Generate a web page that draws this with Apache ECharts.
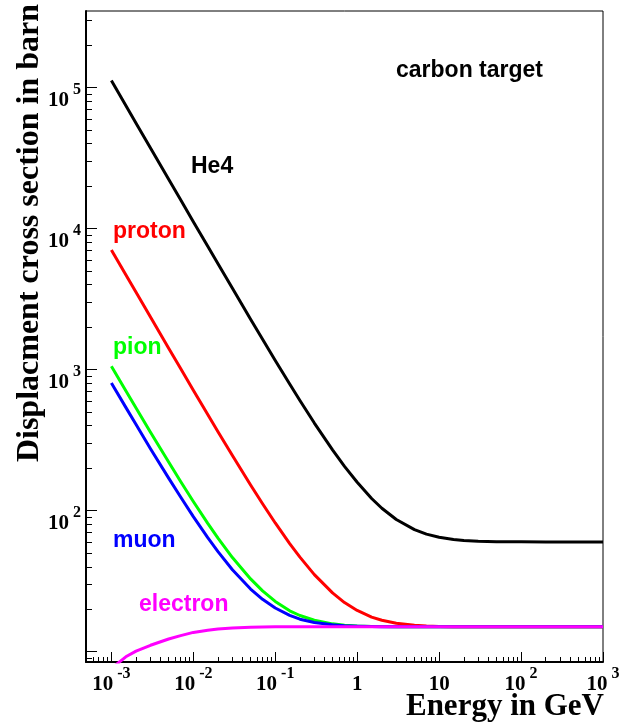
<!DOCTYPE html>
<html>
<head>
<meta charset="utf-8">
<script src="https://cdn.jsdelivr.net/npm/echarts@6/dist/echarts.min.js"></script>
<style>
html,body{margin:0;padding:0;background:#fff;}
#chart{width:625px;height:726px;}
</style>
</head>
<body>
<div id="chart"></div>
<script>
// ---- data ----
const energyGeV = [0.001,0.0015,0.002,0.003,0.005,0.007,0.01,0.015,0.02,0.03,0.05,0.07,0.1,0.15,0.2,0.3,0.5,0.7,1,1.5,2,3,5,7,10,15,20,30,50,100,200,500,1000];
const he4Barn = [112000,74600,55900,37300,22400,16000,11200,7500,5640,3770,2280,1640,1160,790,604,418,270,206,159,122,104,86.6,73.4,68.2,64.8,62.5,61.5,60.7,60.3,60.1,60,60,60];
const protonBarn = [7050,4700,3530,2360,1420,1017,715,480,363,246,152,112,81.8,58.4,46.8,35.2,26.1,22.3,19.6,17.6,16.7,15.9,15.4,15.2,15.1,15.05,15.03,15,15,15,15,15,15];
const pionBarn = [1058,709,535,360,221,161,116,81.2,63.8,46.5,32.8,27.0,22.7,19.5,18.05,16.7,15.75,15.4,15.2,15.1,15.06,15.03,15.01,15,15,15,15,15,15,15,15,15,15];
const muonBarn = [804,540,408,275,170,125,90.7,64.3,51.2,38.1,27.8,23.5,20.4,18.1,17.0,16.1,15.5,15.26,15.14,15.06,15.04,15.02,15.01,15,15,15,15,15,15,15,15,15,15];
const electronBarn = [7.6,9.2,10.1,11.1,12.3,13.0,13.7,14.2,14.5,14.75,14.9,14.95,15,15,15,15,15,15,15,15,15,15,15,15,15,15,15,15,15,15,15,15,15];

const seriesNames = ['He4','proton','pion','muon','electron'];
const seriesColors = ['#000000','#ff0000','#00ff00','#0000ff','#ff00ff'];

const xRange = [0.00049, 1000];
const yRange = [8.45, 349000];

const xTickValues = [0.001,0.01,0.1,1,10,100,1000];
const xTickLabels = ['10^-3','10^-2','10^-1','1','10','10^2','10^3'];
const xMinorTicks = [0.0005,0.0006,0.0007,0.0008,0.0009,
  0.002,0.003,0.004,0.005,0.006,0.007,0.008,0.009,
  0.02,0.03,0.04,0.05,0.06,0.07,0.08,0.09,
  0.2,0.3,0.4,0.5,0.6,0.7,0.8,0.9,
  2,3,4,5,6,7,8,9,20,30,40,50,60,70,80,90,200,300,400,500,600,700,800,900];
const yTickValues = [10,100,1000,10000,100000];
const yTickLabels = ['','10^2','10^3','10^4','10^5'];
const yMinorTicks = [9,20,30,40,50,60,70,80,90,200,300,400,500,600,700,800,900,
  2000,3000,4000,5000,6000,7000,8000,9000,20000,30000,40000,50000,60000,70000,80000,90000,200000,300000];

const annotations = [
  {text:'carbon target', color:'#000000', x:396, y:71},
  {text:'He4', color:'#000000', x:191, y:167},
  {text:'proton', color:'#ff0000', x:113, y:232},
  {text:'pion', color:'#00ff00', x:113, y:348},
  {text:'muon', color:'#0000ff', x:113, y:541},
  {text:'electron', color:'#ff00ff', x:139, y:605}
];
const xTitle = 'Energy in GeV';
const yTitle = 'Displacment cross section in barn';

// ---- helpers ----
function richLabel(s) {
  if (!s) return '';
  const i = s.indexOf('^');
  if (i < 0) return '{b|' + s + '}';
  return '{b|' + s.slice(0, i) + '}{s|' + s.slice(i + 1) + '}';
}
function lookupLabel(values, labels, v) {
  for (let j = 0; j < values.length; j++) {
    if (Math.abs(Math.log10(v) - Math.log10(values[j])) < 0.01) return richLabel(labels[j]);
  }
  return '';
}
const SERIF = '"Liberation Serif", "Times New Roman", serif';
const SANS = '"Liberation Sans", Arial, sans-serif';
const rich = {
  b: {fontFamily: SERIF, fontWeight: 'bold', fontSize: 21, color: '#000', lineHeight: 21, padding: [8, 0, 0, 0]},
  s: {fontFamily: SERIF, fontWeight: 'bold', fontSize: 16, color: '#000', lineHeight: 16, padding: [0, 0, 13, 4]}
};

const chart = echarts.init(document.getElementById('chart'), null, {renderer: 'canvas'});

const series = [he4Barn, protonBarn, pionBarn, muonBarn, electronBarn].map(function (arr, k) {
  return {
    name: seriesNames[k],
    type: 'line',
    xAxisIndex: 0,
    yAxisIndex: 0,
    data: energyGeV.map(function (e, i) { return [e, arr[i]]; }),
    showSymbol: false,
    symbol: 'none',
    smooth: false,
    clip: true,
    lineStyle: {color: seriesColors[k], width: 3, join: 'round'},
    itemStyle: {color: seriesColors[k]},
    emphasis: {disabled: true},
    z: 2 + k
  };
});

const graphic = annotations.map(function (a) {
  return {
    type: 'text', x: a.x, y: a.y, z: 100,
    style: {text: a.text, fill: a.color, fontFamily: SANS, fontWeight: 'bold', fontSize: 23, align: 'left', verticalAlign: 'middle'}
  };
});
graphic.push({
  type: 'text', x: 604, y: 707, z: 100,
  style: {text: xTitle, fill: '#000', fontFamily: SERIF, fontWeight: 'bold', fontSize: 31, align: 'right', verticalAlign: 'middle'}
});
graphic.push({
  type: 'text', x: 30, y: 4, rotation: Math.PI / 2, z: 100,
  style: {text: yTitle, fill: '#000', fontFamily: SERIF, fontWeight: 'bold', fontSize: 32, align: 'right', verticalAlign: 'middle'}
});

const option = {
  animation: false,
  backgroundColor: '#ffffff',
  grid: {left: 86, right: 22, top: 11, bottom: 64, show: true, borderColor: '#000', borderWidth: 1, backgroundColor: 'transparent', containLabel: false, outerBoundsMode: 'none'},
  xAxis: [
    {
      type: 'log', logBase: 10, min: xRange[0], max: xRange[1], position: 'bottom',
      axisLine: {show: true, onZero: false, lineStyle: {color: '#000', width: 2}},
      axisTick: {show: true, inside: true, length: 10, customValues: xTickValues, lineStyle: {color: '#000', width: 1}},
      axisLabel: {show: true, margin: 8, customValues: xTickValues, formatter: function (v) { return lookupLabel(xTickValues, xTickLabels, v); }, rich: rich},
      splitLine: {show: false}, minorTick: {show: false}
    },
    {
      type: 'log', logBase: 10, min: xRange[0], max: xRange[1], position: 'bottom',
      axisLine: {show: false},
      axisTick: {show: true, inside: true, length: 5, customValues: xMinorTicks, lineStyle: {color: '#000', width: 1}},
      axisLabel: {show: false},
      splitLine: {show: false}
    }
  ],
  yAxis: [
    {
      type: 'log', logBase: 10, min: yRange[0], max: yRange[1], position: 'left',
      axisLine: {show: true, onZero: false, lineStyle: {color: '#000', width: 2}},
      axisTick: {show: true, inside: true, length: 11, customValues: yTickValues, lineStyle: {color: '#000', width: 1}},
      axisLabel: {show: true, margin: 5, customValues: yTickValues, padding: [18, 0, 0, 0], formatter: function (v) { return lookupLabel(yTickValues, yTickLabels, v); }, rich: rich},
      splitLine: {show: false}, minorTick: {show: false}
    },
    {
      type: 'log', logBase: 10, min: yRange[0], max: yRange[1], position: 'left',
      axisLine: {show: false},
      axisTick: {show: true, inside: true, length: 6, customValues: yMinorTicks, lineStyle: {color: '#000', width: 1}},
      axisLabel: {show: false},
      splitLine: {show: false}
    }
  ],
  series: series,
  graphic: graphic
};
chart.setOption(option);
</script>
</body>
</html>
